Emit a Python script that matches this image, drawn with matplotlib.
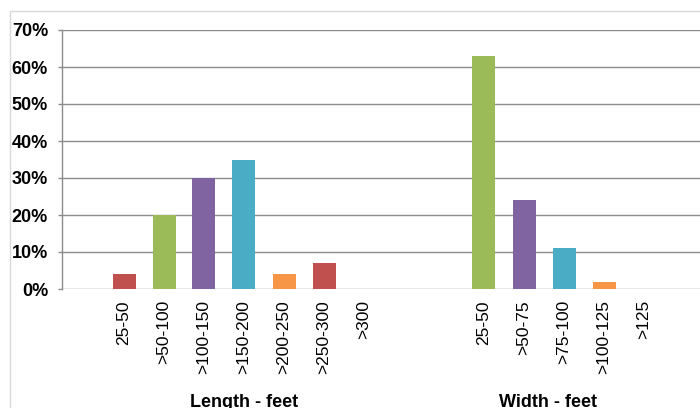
import matplotlib
matplotlib.use("Agg")
import matplotlib.pyplot as plt
import matplotlib.patches as mpatches
from matplotlib.ticker import PercentFormatter

# ── Data ─────────────────────────────────────────────────────────────────────
length_cats = ['25-50', '>50-100', '>100-150', '>150-200', '>200-250', '>250-300', '>300']
length_vals = [4, 20, 30, 35, 4, 7, 0]
width_cats  = ['25-50', '>50-75', '>75-100', '>100-125', '>125']
width_vals  = [63, 24, 11, 2, 0]

RED, GREEN, PURPLE, AQUA, ORANGE = '#C0504D', '#9BBB59', '#8064A2', '#4BACC6', '#F79646'
length_cols = [RED, GREEN, PURPLE, AQUA, ORANGE, RED, RED]
width_cols  = [GREEN, PURPLE, AQUA, ORANGE, ORANGE]

# slot layout: one blank slot, lengths, two blank slots, widths
len_pos = list(range(1, 1 + len(length_cats)))
wid_pos = list(range(len_pos[-1] + 3, len_pos[-1] + 3 + len(width_cats)))

plt.rcParams['font.family'] = ['Liberation Sans', 'DejaVu Sans']

W, H = 700, 408
fig = plt.figure(figsize=(W / 100, H / 100), dpi=100)
ax = fig.add_axes([62 / W, (H - 289) / H, (700 - 62) / W, (289 - 30) / H])

ax.bar(len_pos, length_vals, width=0.575, color=length_cols, zorder=3)
ax.bar(wid_pos, width_vals, width=0.575, color=width_cols, zorder=3)

ax.set_ylim(0, 70)
ax.set_xlim(-0.55, 15.4)
ax.set_yticks(range(0, 71, 10))
ax.yaxis.set_major_formatter(PercentFormatter(decimals=0))
ax.yaxis.grid(True, color='#8C8C8C', linewidth=1.0, zorder=0)
for lab in ax.get_yticklabels():
    lab.set_fontweight('bold')
ax.tick_params(axis='y', length=3, width=1, color='#8C8C8C', pad=7, labelsize=13)

ax.set_xticks(len_pos + wid_pos)
ax.set_xticklabels(length_cats + width_cats, rotation=90, va='top', ha='center')
ax.tick_params(axis='x', length=0, pad=8, labelsize=12.5)

for s in ['top', 'right', 'bottom']:
    ax.spines[s].set_visible(False)
ax.spines['left'].set_color('#8C8C8C')
ax.spines['left'].set_linewidth(1.0)

# group labels under the categories
ax.text(sum(len_pos) / len(len_pos), -28.5, 'Length - feet', ha='center', va='top',
        fontsize=13, fontweight='bold', clip_on=False)
ax.text(sum(wid_pos) / len(wid_pos) - 0.4, -28.5, 'Width - feet', ha='center', va='top',
        fontsize=13, fontweight='bold', clip_on=False)

# chart-area frame (light gray)
fig.add_artist(mpatches.Rectangle((10 / W, -0.05), 1.0, (H - 11) / H + 0.05,
                                  transform=fig.transFigure, fill=False,
                                  edgecolor='#D9D9D9', linewidth=1.0, clip_on=False))

fig.savefig('out.png', dpi=100)
